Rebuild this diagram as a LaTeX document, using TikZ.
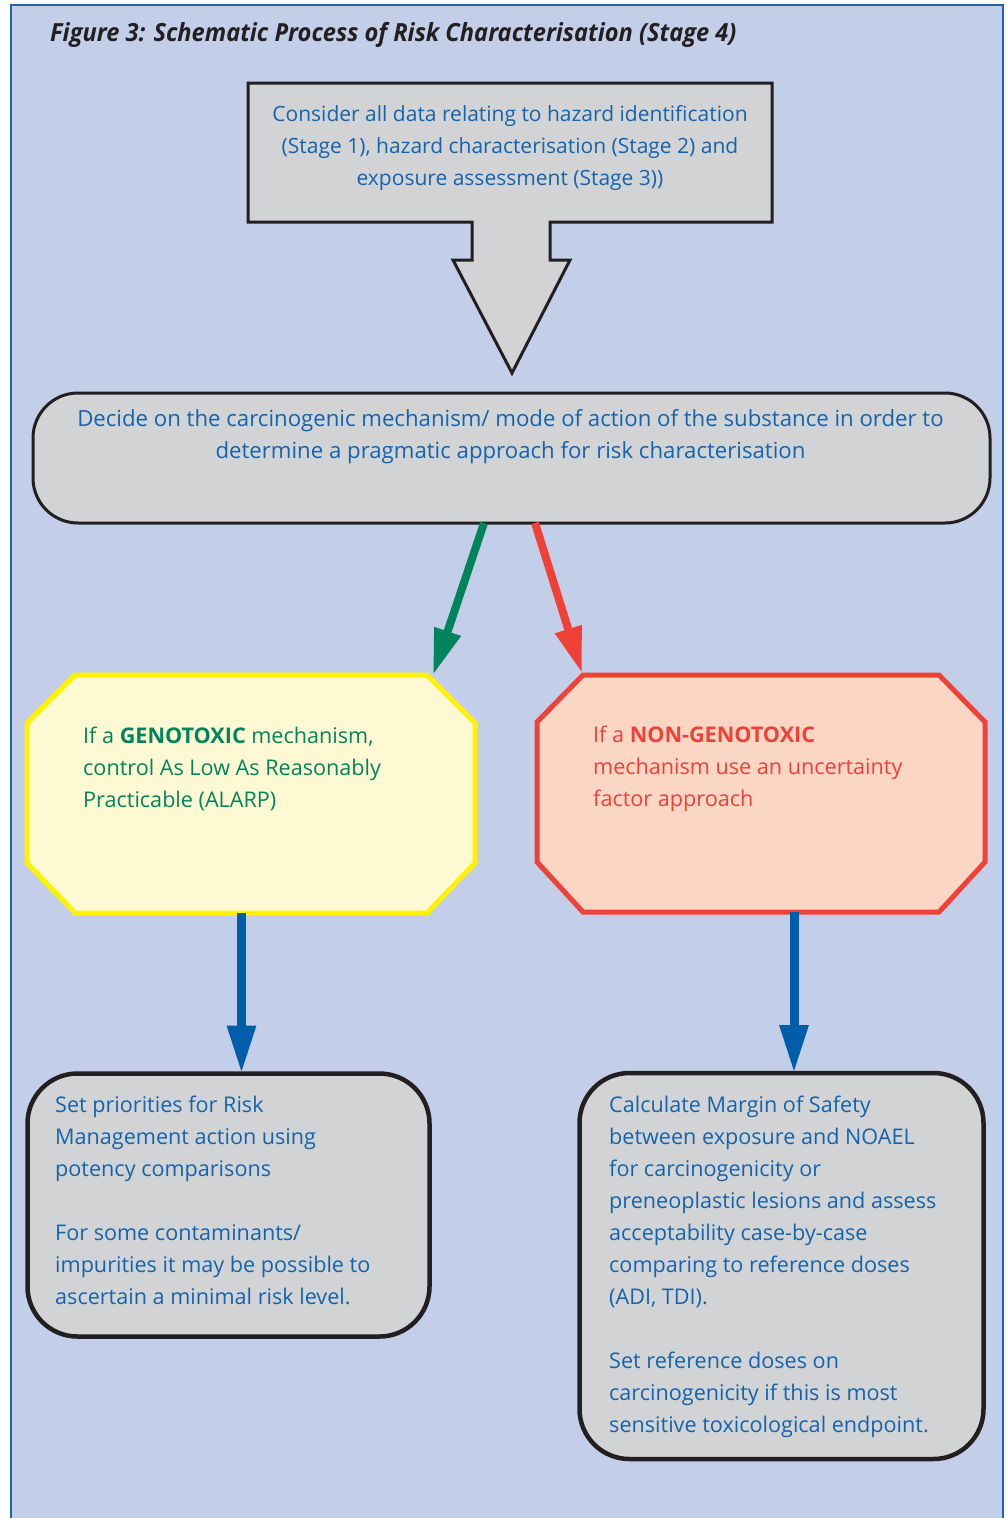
\documentclass[tikz,border=0pt]{standalone}
\usepackage{fontspec}
\setmainfont{Open Sans}
\newfontfamily\titlefont[FakeStretch=0.945]{Open Sans}
\usetikzlibrary{arrows.meta,calc}
\definecolor{bg}{HTML}{C3CEE8}
\definecolor{frameblue}{HTML}{1F64AF}
\definecolor{boxgray}{HTML}{D2D3D5}
\definecolor{outline}{HTML}{231F20}
\definecolor{txtblue}{HTML}{1464AD}
\definecolor{gtxt}{HTML}{00845C}
\definecolor{garrow}{HTML}{00845C}
\definecolor{rtxt}{HTML}{EF4136}
\definecolor{yfill}{HTML}{FFF9D3}
\definecolor{yline}{HTML}{FFF200}
\definecolor{rfill}{HTML}{FCD6C5}
\definecolor{barrow}{HTML}{005DAA}
\newcommand{\bodysize}{\fontsize{21.6}{32}\selectfont}
\newcommand{\fl}{\rule{0pt}{20pt}}
\tikzset{
  grayshape/.style={fill=boxgray, draw=outline, line width=3pt, line join=miter},
  roundbox/.style={fill=boxgray, draw=outline, line width=4.5pt, rounded corners=50pt},
  octyellow/.style={fill=yfill, draw=yline, line width=5pt},
  octred/.style={fill=rfill, draw=rtxt, line width=5pt},
  frame/.style={inner sep=0pt, outer sep=0pt},
  bodytext/.style={inner sep=0pt, text=txtblue, font=\bodysize},
  slantarrow/.style={line width=8pt, -{Triangle[length=46pt,width=26pt]}},
  downarrow/.style={draw=barrow, line width=9pt, -{Triangle[length=48pt,width=27pt]}},
}
\begin{document}
\begin{tikzpicture}[x=1pt,y=-1pt]
\useasboundingbox (0,0) rectangle (1006,1518);
\fill[bg] (11,5) rectangle (1003,1518);
\draw[frameblue, line width=2.5pt] (11,1518) -- (11,5) -- (1003,5) -- (1003,1518);

\node[anchor=base west, inner sep=0pt, text=outline, font={\titlefont\fontsize{25}{28}\selectfont\bfseries\itshape}] (title) at (50,41)
  {Figure 3: Schematic Process of Risk Characterisation (Stage 4)};

% top box with block arrow
\coordinate (tip) at (512,373);
\draw[grayshape] (248,83) -- (772,83) -- (772,222) -- (550,222) -- (550,260) -- (570,260)
  -- (tip) -- (453,260) -- (472,260) -- (472,222) -- (248,222) -- cycle;
\node[bodytext, font=\fontsize{21}{32}\selectfont, anchor=north, align=center] (consider) at (510,101.5)
  {\fl Consider all data relating to hazard identification\\
   (Stage 1), hazard characterisation (Stage 2) and\\
   exposure assessment (Stage 3))};

% decision box
\node[frame, grayshape, rounded corners=45pt, minimum width=957pt, minimum height=130pt] (decide) at (511.5,458) {};
\node[bodytext, font=\fontsize{22.2}{32}\selectfont, anchor=north, align=center] (decidetext) at (510.5,406)
  {\fl Decide on the carcinogenic mechanism/ mode of action of the substance in order to\\
   determine a pragmatic approach for risk characterisation};

% genotoxic octagon
\node[frame, minimum width=448pt, minimum height=238pt] (geno) at (251,794) {};
\draw[octyellow] ($(geno.north west)+(48,0)$) coordinate (genoNW) -- ($(geno.north east)+(-48,0)$) coordinate (genoNE)
  -- ($(geno.north east)+(0,48)$) -- ($(geno.south east)+(0,-50)$) -- ($(geno.south east)+(-48,0)$)
  -- ($(geno.south west)+(48,0)$) -- ($(geno.south west)+(0,-50)$) -- ($(geno.north west)+(0,48)$) -- cycle;
\node[bodytext, text=gtxt, anchor=north west, align=left] (genotext) at (83,723.5)
  {\fl If a \textbf{GENOTOXIC} mechanism,\\
   control As Low As Reasonably\\
   Practicable (ALARP)};

% non-genotoxic octagon
\node[frame, minimum width=448pt, minimum height=237pt] (nongeno) at (761,793.5) {};
\draw[octred] ($(nongeno.north west)+(46,0)$) coordinate (nongenoNW) -- ($(nongeno.north east)+(-46,0)$)
  -- ($(nongeno.north east)+(0,47)$) -- ($(nongeno.south east)+(0,-50)$) -- ($(nongeno.south east)+(-46,0)$)
  -- ($(nongeno.south west)+(46,0)$) -- ($(nongeno.south west)+(0,-50)$) -- ($(nongeno.north west)+(0,47)$) -- cycle;
\node[bodytext, text=rtxt, anchor=north west, align=left] (nongenotext) at (593,722)
  {\fl If a \textbf{NON-GENOTOXIC}\\
   mechanism use an uncertainty\\
   factor approach};

% bottom boxes
\node[frame, roundbox, minimum width=402pt, minimum height=263pt] (priority) at (228.5,1205) {};
\node[bodytext, anchor=north west, align=left] (prioritytext) at (55,1092)
  {\fl Set priorities for Risk\\
   Management action using\\
   potency comparisons\\[32pt]
   For some contaminants/\\
   impurities it may be possible to\\
   ascertain a minimal risk level.};

\node[frame, roundbox, minimum width=404pt, minimum height=386pt] (margin) at (781.5,1266) {};
\node[bodytext, anchor=north west, align=left] (margintext) at (609,1092)
  {\fl Calculate Margin of Safety\\
   between exposure and NOAEL\\
   for carcinogenicity or\\
   preneoplastic lesions and assess\\
   acceptability case-by-case\\
   comparing to reference doses\\
   (ADI, TDI).\\[32pt]
   Set reference doses on\\
   carcinogenicity if this is most\\
   sensitive toxicological endpoint.};

% connectors
\draw[slantarrow, draw=garrow, fill=garrow] ($(decide.south west)+(451,0)$) -- ($(genoNE)+(6,0)$);
\draw[slantarrow, draw=rtxt, fill=rtxt] ($(decide.south west)+(502,0)$) -- ($(nongenoNW)+(-1,-2)$);
\draw[downarrow] (geno.south -| 241.5,0) -- (priority.north -| 241.5,0);
\draw[downarrow] (nongeno.south -| 794,0) -- (margin.north -| 794,0);
\end{tikzpicture}
\end{document}
